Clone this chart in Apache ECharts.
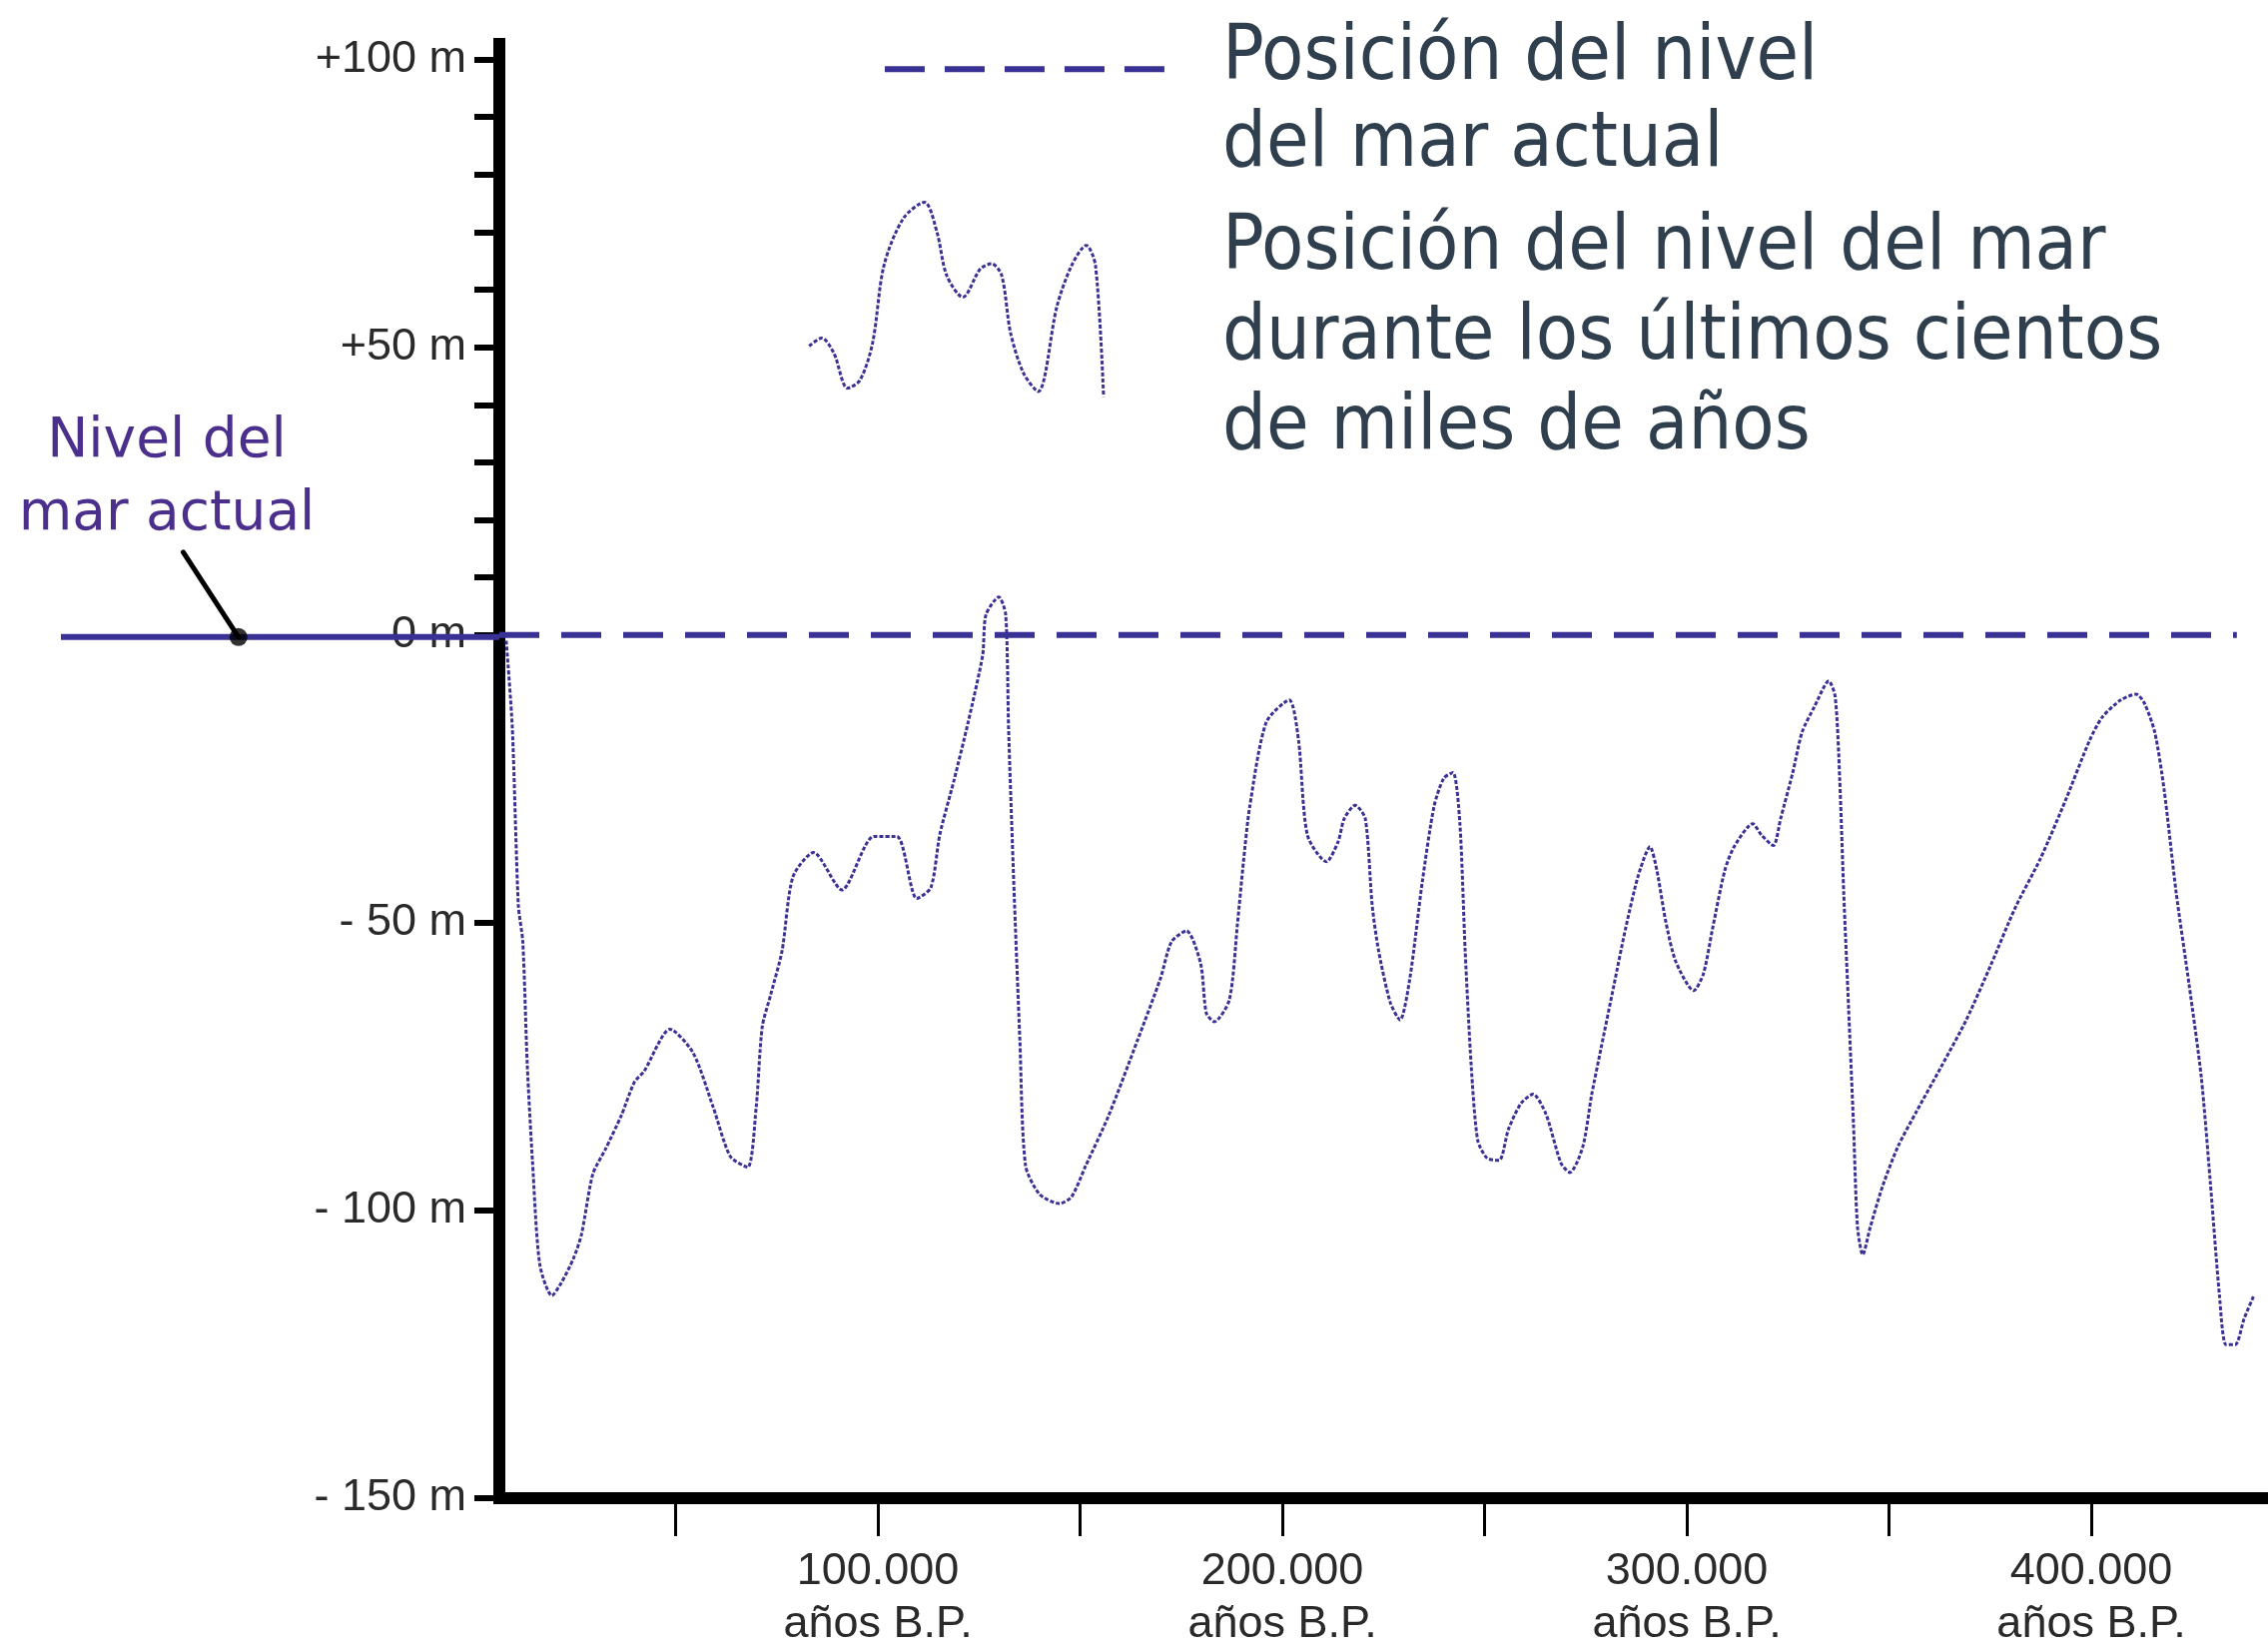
<!DOCTYPE html>
<html>
<head>
<meta charset="utf-8">
<script src="https://cdn.jsdelivr.net/npm/echarts@6.0.0/dist/echarts.min.js"></script>
<style>
  html, body { margin: 0; padding: 0; background: #fff; }
  #chart { width: 2271px; height: 1653px; }
</style>
</head>
<body>
<div id="chart"></div>
<script>
// sea level curve, thousands of years B.P. and metres relative to present
var kaBP = [8.1, 9.6, 11.1, 12.2, 13.3, 14.6, 16.4, 19.4, 21.7, 24.7, 26.7, 29.5, 32.6, 36.5, 39.8, 42.2,
  48.6, 54.3, 59.3, 63.5, 67.8, 69.9, 71.4, 73.5, 76.3, 79.0, 84.1, 91.1, 99.0, 104.7, 109.6, 113.1,
  115.3, 118.8, 122.3, 125.9, 126.7, 129.9, 131.6, 132.3, 133.6, 135.1, 136.5, 140.0, 144.9, 147.9,
  151.4, 157.0, 164.2, 169.9, 172.6, 176.3, 179.8, 181.2, 183.2, 186.9, 188.9, 190.4, 191.9, 196.0,
  201.7, 204.0, 206.2, 210.9, 213.8, 215.3, 218.0, 220.5, 222.2, 223.8, 226.7, 229.1, 231.5, 234.6,
  237.5, 239.9, 242.2, 243.9, 245.2, 246.7, 248.3, 250.6, 253.6, 255.9, 259.0, 262.0, 265.2, 268.9,
  271.1, 274.3, 276.5, 278.8, 282.0, 284.9, 288.0, 290.9, 292.6, 294.8, 297.3, 301.7, 304.1, 306.4,
  309.4, 311.7, 316.3, 318.5, 321.4, 323.2, 326.2, 328.5, 331.6, 335.1, 336.7, 337.8, 338.8, 340.0,
  341.2, 342.2, 343.5, 345.4, 348.4, 352.2, 356.8, 363.0, 369.1, 375.2, 381.2, 387.4, 393.6, 399.6,
  402.7, 407.3, 411.1, 413.1, 415.7, 418.0, 421.0, 424.2, 427.2, 429.4, 431.7, 433.3, 435.6, 437.8, 440.2];
var seaLevel = [-1, -16.0, -47.0, -53.3, -74.6, -91.5, -109.4, -114.8, -112.6, -108.4, -104.2, -93.7, -89.4, -83.6, -77.7, -75.8,
  -68.5, -72.6, -82.1, -90.6, -92.5, -82.1, -68.1, -62.5, -54.9, -42.0, -37.8, -44.3, -35.0, -35.0, -45.8, -43.9,
  -34.7, -25.3, -15.2, -3.5, 3.5, 6.6, 3.5, -16.0, -43.2, -70.4, -92.2, -97.2, -98.8, -97.6,
  -92.2, -83.6, -70.4, -59.6, -53.3, -51.4, -57.1, -65.7, -67.2, -63.4, -50.2, -39.3, -30.0, -15.2,
  -11.3, -18.3, -34.8, -39.4, -35.9, -31.9, -29.6, -31.9, -46.9, -54.9, -63.9, -66.9, -59.8, -42.9,
  -29.8, -24.9, -23.9, -32.8, -54.9, -74.9, -87.8, -90.9, -91.3, -85.9, -81.4, -79.8, -83.3, -91.8,
  -93.4, -88.9, -79.8, -71.8, -60.8, -50.9, -41.8, -36.8, -40.9, -49.8, -56.8, -61.8, -58.9, -50.9,
  -40.9, -36.8, -32.8, -34.8, -36.6, -31.9, -23.9, -16.9, -12.4, -8.0, -10.8, -24.9, -44.8, -64.8,
  -84.8, -102.8, -107.7, -102.8, -95.8, -88.9, -82.8, -74.9, -66.9, -57.3, -47.4, -38.9, -28.8, -18.3,
  -14.3, -11.3, -10.3, -11.8, -16.9, -26.8, -44.8, -60.8, -76.8, -94.8, -114.8, -123.3, -123.3, -118.8, -114.8];

// small sample curve used as legend symbol
var legendWaveKa = [83.0, 86.1, 89.1, 92.5, 95.6, 98.7, 101.5, 106.3, 111.5, 114.6, 117.0, 121.0,
  125.3, 128.1, 130.6, 132.8, 136.0, 139.6, 144.3, 147.9, 151.5, 153.8, 155.8];
var legendWaveLevel = [50.2, 51.6, 49.0, 42.9, 44.3, 50.8, 64.2, 72.4, 75.2, 70.0, 62.5, 58.7,
  63.6, 64.5, 62.5, 52.5, 45.5, 42.3, 57.2, 64.2, 67.7, 64.2, 41.4];

// present sea level (dashed), legend dash sample
var zeroLineYears = [6400, 436000];
var zeroLineLevel = [0, 0];
var legendDashYears = [101700, 171100];
var legendDashLevel = [98.3, 98.3];

// axis ticks and labels
var xTickYears = [50000, 100000, 150000, 200000, 250000, 300000, 350000, 400000];
var xLabelYears = [100000, 200000, 300000, 400000];
var yTickLevels = [-150, -100, -50, 0, 10, 20, 30, 40, 50, 60, 70, 80, 90, 100];
var yLabelLevels = [-150, -100, -50, 0, 50, 100];

// left annotation (own small grid, unitless 0..100 across)
var leftLineX = [0, 100];
var leftLineY = [0, 0];
var pointerX = [27.9, 40.5];
var pointerY = [14.7, 0];
var dotX = [40.5];
var dotY = [0];

var legendLines1 = ['Posición del nivel', 'del mar actual'];
var legendLines2 = ['Posición del nivel del mar', 'durante los últimos cientos', 'de miles de años'];
var leftLabel = ['Nivel del', 'mar actual'];

function pairs(xs, ys, k) {
    return xs.map(function (x, i) { return [x * (k || 1), ys[i]]; });
}

var purple = '#3a3194';
var axisFont = '"Liberation Sans", Arial, sans-serif';
var textFont = '"DejaVu Sans Condensed", "DejaVu Sans", sans-serif';

var chart = echarts.init(document.getElementById('chart'));

chart.setOption({
    animation: false,
    backgroundColor: '#ffffff',
    grid: [
        { left: 500, right: 0, top: 44, bottom: 148 },
        { left: 61, width: 439, top: 44, bottom: 148 }
    ],
    xAxis: [{
        type: 'value',
        gridIndex: 0,
        min: 6400,
        max: 443700,
        splitLine: { show: false },
        axisLine: { onZero: false, lineStyle: { color: '#000', width: 12, cap: 'square' } },
        axisTick: { customValues: xTickYears, length: 38, lineStyle: { color: '#000', width: 3 } },
        axisLabel: {
            customValues: xLabelYears,
            margin: 47,
            fontSize: 45,
            lineHeight: 53,
            fontFamily: axisFont,
            color: '#2a2a2a',
            formatter: function (v) { return (v / 1000) + '.000\naños B.P.'; }
        }
    }, {
        type: 'value', gridIndex: 1, min: 0, max: 100, show: false
    }],
    yAxis: [{
        type: 'value',
        gridIndex: 0,
        min: -150,
        max: 102.7,
        splitLine: { show: false },
        axisLine: { show: true, onZero: false, lineStyle: { color: '#000', width: 12, cap: 'square' } },
        axisTick: { show: true, customValues: yTickLevels, length: 25, lineStyle: { color: '#000', width: 6 } },
        axisLabel: {
            customValues: yLabelLevels,
            margin: 33,
            fontSize: 45,
            fontFamily: axisFont,
            color: '#2a2a2a',
            formatter: function (v) {
                if (v > 0) return '+' + v + ' m';
                if (v < 0) return '- ' + (-v) + ' m';
                return '0 m';
            }
        }
    }, {
        type: 'value', gridIndex: 1, min: -150, max: 102.7, show: false
    }],
    series: [{
        name: 'Posición del nivel del mar actual',
        type: 'line',
        data: pairs(zeroLineYears, zeroLineLevel),
        showSymbol: false,
        lineStyle: { color: purple, width: 6, type: [40, 22] },
        z: 3
    }, {
        name: 'Posición del nivel del mar',
        type: 'line',
        data: pairs(kaBP, seaLevel, 1000),
        showSymbol: false,
        smooth: 0.25,
        lineStyle: { color: purple, width: 3, type: [4, 2] },
        z: 4
    }, {
        name: 'leyenda nivel actual',
        type: 'line',
        data: pairs(legendDashYears, legendDashLevel),
        showSymbol: false,
        lineStyle: { color: purple, width: 6, type: [40, 20] }
    }, {
        name: 'leyenda curva',
        type: 'line',
        data: pairs(legendWaveKa, legendWaveLevel, 1000),
        showSymbol: false,
        smooth: 0.3,
        lineStyle: { color: purple, width: 3, type: [4, 2] }
    }, {
        name: 'nivel actual izquierda',
        type: 'line',
        xAxisIndex: 1,
        yAxisIndex: 1,
        data: pairs(leftLineX, leftLineY),
        showSymbol: false,
        lineStyle: { color: purple, width: 6 }
    }, {
        name: 'indicador',
        type: 'line',
        xAxisIndex: 1,
        yAxisIndex: 1,
        data: pairs(pointerX, pointerY),
        showSymbol: false,
        lineStyle: { color: '#000', width: 5, cap: 'round' },
        z: 5
    }, {
        name: 'punto',
        type: 'scatter',
        xAxisIndex: 1,
        yAxisIndex: 1,
        data: pairs(dotX, dotY),
        symbolSize: 18,
        itemStyle: { color: '#000' },
        z: 6
    }],
    graphic: [{
        type: 'text',
        x: 1224,
        y: 102,
        style: {
            text: legendLines1.join('\n'),
            fontSize: 77,
            lineHeight: 87,
            fontFamily: textFont,
            fill: '#2f3f4e',
            align: 'left',
            verticalAlign: 'middle'
        }
    }, {
        type: 'text',
        x: 1224,
        y: 339,
        style: {
            text: legendLines2.join('\n'),
            fontSize: 77,
            lineHeight: 90,
            fontFamily: textFont,
            fill: '#2f3f4e',
            align: 'left',
            verticalAlign: 'middle'
        }
    }, {
        type: 'text',
        x: 167,
        y: 479,
        style: {
            text: leftLabel.join('\n'),
            fontSize: 55,
            lineHeight: 73,
            fontFamily: '"DejaVu Sans", sans-serif',
            fill: '#4b2f8c',
            align: 'center',
            verticalAlign: 'middle'
        }
    }]
});

window.addEventListener('resize', function () { chart.resize(); });
</script>
</body>
</html>
